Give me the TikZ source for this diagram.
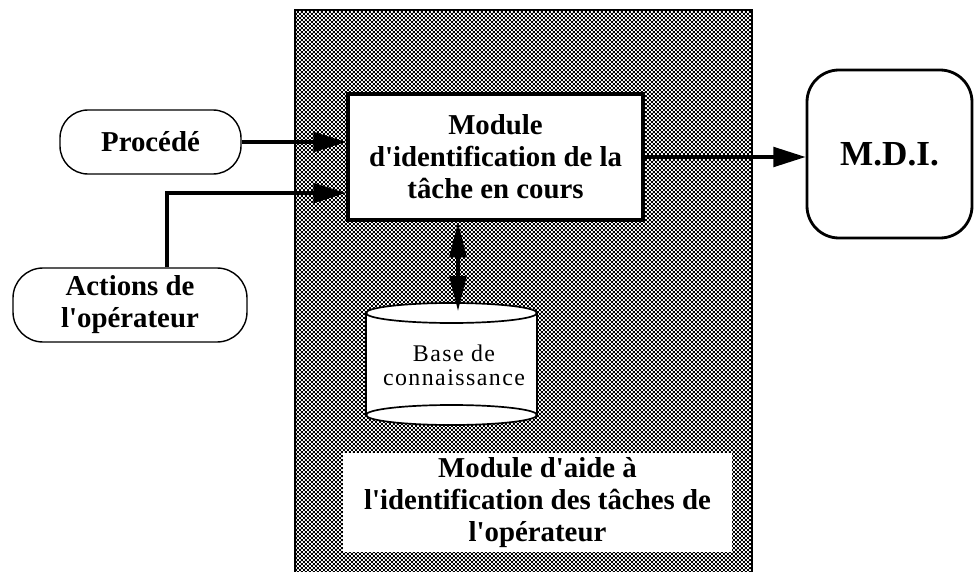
\documentclass[tikz,border=0pt]{standalone}
\usepackage{fontspec}
\setmainfont{Liberation Serif}[Ligatures=TeXOff]
\usepackage{tikz}
\usetikzlibrary{arrows.meta,patterns.meta}

\tikzdeclarepattern{
  name=escacs,
  type=uncolored,
  bottom left={(0pt,0pt)},
  top right={(2.84pt,2.84pt)},
  tile size={(2.84pt,2.84pt)},
  code={
    \pgfpathrectangle{\pgfpointorigin}{\pgfqpoint{1.42pt}{1.42pt}}
    \pgfpathrectangle{\pgfqpoint{1.42pt}{1.42pt}}{\pgfqpoint{1.42pt}{1.42pt}}
    \pgfusepath{fill}
  }
}

\begin{document}
\begin{tikzpicture}[
    >={Triangle[length=23pt,width=14pt]},
    caixa/.style={draw, fill=white, align=center,
        font=\fontsize{20.5}{22.8}\selectfont\bfseries},
    fletxa/.style={->, line width=2.4pt}
]
\useasboundingbox (0,0) rectangle (24.35,14.275);

    % Zona quadriculada
    \draw[
        line width=1.6pt,
        pattern=escacs,
        pattern color=black
    ] (7.375,-0.5) rectangle (18.8,14.025);

    % Modul central
    \node[
        caixa,
        line width=3.2pt,
        minimum width=7.375cm,
        minimum height=3.15cm
    ] (modul) at (12.3875,10.35) {Module\\d'identification de la\\tâche en cours};

    % Entrades
    \node[
        caixa,
        line width=1pt,
        rounded corners=0.7cm,
        minimum width=4.525cm,
        minimum height=1.6cm
    ] (proc) at (3.7625,10.725) {Procédé};
    \node[
        caixa,
        line width=1pt,
        rounded corners=0.75cm,
        minimum width=5.85cm,
        minimum height=1.85cm
    ] (accions) at (3.25,6.65) {Actions de\\l'opérateur};

    % Sortida
    \node[
        caixa,
        line width=2pt,
        rounded corners=0.8cm,
        minimum width=4.125cm,
        minimum height=4.2cm,
        font=\fontsize{25}{28}\selectfont\bfseries
    ] (mdi) at (22.2375,10.425) {M.D.I.};

    % Base de coneixement
    \fill[white] (9.15,6.45) -- (9.15,3.9)
        arc[start angle=180, end angle=360, x radius=2.1375, y radius=0.25]
        -- (13.425,6.45)
        arc[start angle=0, end angle=180, x radius=2.1375, y radius=0.25] -- cycle;
    \draw[line width=1.2pt] (9.15,6.45) -- (9.15,3.9);
    \draw[line width=1.2pt] (13.425,6.45) -- (13.425,3.9);
    \draw[line width=1.2pt] (11.2875,6.45) ellipse (2.1375 and 0.25);
    \draw[line width=1.2pt] (11.2875,3.9) ellipse (2.1375 and 0.25);
    \node[
        align=center,
        font=\fontsize{17}{17}\selectfont\addfontfeature{LetterSpace=6}
    ] (base) at (11.35,5.15) {Base de\\connaissance};
    \coordinate (basedalt) at (11.45,6.5);

    % Titol
    \node[
        fill=white,
        minimum width=9.725cm,
        minimum height=2.475cm,
        align=center,
        font=\fontsize{20.5}{22.8}\selectfont\bfseries
    ] (titol) at (13.4375,1.7125) {Module d'aide à\\l'identification des tâches de\\l'opérateur};

    % Fletxes
    \draw[fletxa] (proc) -- (proc -| modul.west);
    \draw[fletxa] ([xshift=0.925cm]accions.north) |- ([yshift=-0.9cm]modul.west);
    \draw[fletxa] (modul.east) -- (modul.east -| mdi.west);
    \draw[
        {Triangle[length=25pt,width=12pt]}-{Triangle[length=25pt,width=12pt]},
        line width=2.4pt
    ] (basedalt |- modul.south) -- (basedalt);

\end{tikzpicture}
\end{document}
